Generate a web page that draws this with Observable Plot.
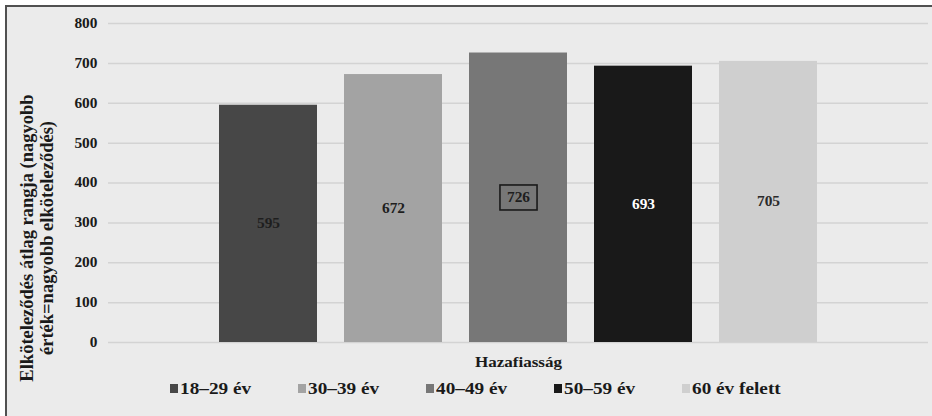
<!DOCTYPE html>
<html>
<head>
<meta charset="utf-8">
<script src="https://cdn.jsdelivr.net/npm/d3@7"></script>
<script src="https://cdn.jsdelivr.net/npm/@observablehq/plot@0.6"></script>
<style>
  html, body { margin: 0; padding: 0; background: #ffffff; }
  body { width: 932px; height: 416px; position: relative; overflow: hidden;
         font-family: "Liberation Serif", "Times New Roman", serif; }
  #card { position: absolute; left: 5px; top: 5px; width: 927px; height: 411px;
          background: #ebebeb; border-left: 2px solid #505050; border-top: 2px solid #505050;
          box-sizing: border-box; }
  #chart { position: absolute; left: 0; top: 0; width: 932px; }
  #chart svg { display: block; }
  #legend { display: flex; align-items: center; height: 32px; padding-left: 170px; }
  .item { width: 128px; display: flex; align-items: center; flex: none; }
  .swatch { width: 8px; height: 9px; flex: none; margin-right: 2px; }
  .name { display: inline-block; font-weight: bold; font-size: 17.5px; color: #1a1a1a;
          white-space: nowrap; transform: scaleX(1.1); transform-origin: left center; }
</style>
</head>
<body>
<div id="card"></div>
<div id="chart"></div>
<script>
// Age groups, their mean commitment ranks and the grey shade of each series
const groups = ["18–29 év", "30–39 év", "40–49 év", "50–59 év", "60 év felett"];
const ranks = [595, 672, 726, 693, 705];
const shades = ["#474747", "#a3a3a3", "#777777", "#191919", "#cfcfcf"];
const labelInk = ["#1e1e1e", "#1e1e1e", "#1e1e1e", "#ffffff", "#2a2a2a"];
const category = "Hazafiasság";
const yTicks = [0, 100, 200, 300, 400, 500, 600, 700, 800];
const yTitle = ["Elköteleződés átlag rangja (nagyobb", "érték=nagyobb elköteleződés)"];
const boxedValue = 726;

const rows = groups.map((g, i) => ({group: g, rank: ranks[i], shade: shades[i], ink: labelInk[i]}));

const chart = Plot.plot({
  width: 932,
  height: 372,
  marginLeft: 108,
  marginRight: 4,
  marginTop: 23,
  marginBottom: 30,
  style: {
    background: "transparent",
    fontFamily: "'Liberation Serif', 'Times New Roman', serif",
    fontWeight: "bold",
    color: "#1a1a1a",
    overflow: "visible"
  },
  x: {domain: groups, paddingInner: 0.215, paddingOuter: 0.875, axis: null},
  y: {domain: [0, 800]},
  color: {type: "identity"},
  marks: [
    Plot.gridY(yTicks, {stroke: "#d3d3d3", strokeOpacity: 1, strokeWidth: 1.5}),
    Plot.axisY(yTicks, {tickSize: 0, tickPadding: 11, fontSize: 14, fontWeight: "bold", label: null, fill: "#1a1a1a"}),
    Plot.barY(rows, {x: "group", y: "rank", fill: "shade"}),
    Plot.text(rows, {x: "group", y: d => d.rank / 2, text: d => String(d.rank), fill: "ink", fontSize: 14, fontWeight: "bold"}),
    Plot.text([category], {frameAnchor: "bottom", lineAnchor: "middle", dy: 20, fontSize: 15.5, fontWeight: "bold", fill: "#1a1a1a"}),
    Plot.text([yTitle[0]], {frameAnchor: "left", textAnchor: "middle", lineAnchor: "middle", rotate: -90, dx: -81, dy: 55, fontSize: 18.5, fontWeight: "bold", fill: "#1a1a1a"}),
    Plot.text([yTitle[1]], {frameAnchor: "left", textAnchor: "middle", lineAnchor: "middle", rotate: -90, dx: -61, dy: 55, fontSize: 18.5, fontWeight: "bold", fill: "#1a1a1a"})
  ]
});

const host = document.getElementById("chart");
host.appendChild(chart);

// Slightly widen the horizontal labels, keeping each label's anchor in place
const stretch = 1.1;
for (const t of chart.querySelectorAll("text")) {
  const tr = t.getAttribute("transform") || "";
  if (tr.includes("rotate")) continue;
  const xAttr = t.getAttribute("x");
  if (xAttr !== null && !isNaN(+xAttr)) t.setAttribute("x", +xAttr / stretch);
  t.setAttribute("transform", `${tr} scale(${stretch},1)`.trim());
}

// Frame the highlighted value label
const ns = "http://www.w3.org/2000/svg";
for (const t of chart.querySelectorAll("text")) {
  if (t.textContent !== String(boxedValue)) continue;
  const b = t.getBBox();
  const w = b.width * stretch + 14, h = 25;
  const cx = (b.x + b.width / 2) * stretch, cy = b.y + b.height / 2;
  const g = document.createElementNS(ns, "g");
  // the rect sits in the label's own frame, without the horizontal stretch
  g.setAttribute("transform", (t.getAttribute("transform") || "").replace(/scale\([^)]*\)/, "").trim());
  const r = document.createElementNS(ns, "rect");
  r.setAttribute("x", cx - w / 2);
  r.setAttribute("y", cy - h / 2);
  r.setAttribute("width", w);
  r.setAttribute("height", h);
  r.setAttribute("fill", "none");
  r.setAttribute("stroke", "#1a1a1a");
  r.setAttribute("stroke-width", 1.6);
  g.appendChild(r);
  t.parentNode.insertBefore(g, t);
}

// Legend below the plot
const legend = document.createElement("div");
legend.id = "legend";
groups.forEach((g, i) => {
  const item = document.createElement("div");
  item.className = "item";
  const sw = document.createElement("span");
  sw.className = "swatch";
  sw.style.background = shades[i];
  const nm = document.createElement("span");
  nm.className = "name";
  nm.textContent = g;
  item.append(sw, nm);
  legend.appendChild(item);
});
host.appendChild(legend);
</script>
</body>
</html>
